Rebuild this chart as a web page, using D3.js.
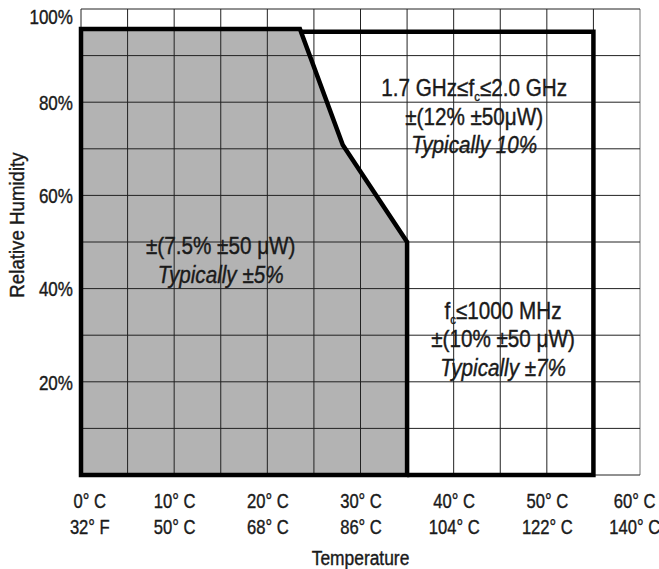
<!DOCTYPE html>
<html>
<head>
<meta charset="utf-8">
<script src="https://cdn.jsdelivr.net/npm/d3@7"></script>
<style>
  body { margin: 0; background: #fff; }
  text { font-family: "Liberation Sans", Arial, sans-serif; fill: #1a1a1a; stroke: #1a1a1a; stroke-width: 0.4px; }
</style>
</head>
<body>
<script>
// axis ticks
let tempTicks = [0, 10, 20, 30, 40, 50, 60]
let tempLabelsC = ["0° C", "10° C", "20° C", "30° C", "40° C", "50° C", "60° C"]
let tempLabelsF = ["32° F", "50° C", "68° C", "86° C", "104° C", "122° C", "140° C"]
let humTicks = [20, 40, 60, 80, 100]

// ±7.5% region (temperature °C, relative humidity %)
let innerTemp = [0, 0, 23.5, 28.1, 35, 35]
let innerHum = [0, 95.7, 95.7, 70.8, 50, 0]

// outer region boundary
let outerTemp = [23.5, 55, 55, 35]
let outerHum = [95.1, 95.1, 0, 0]

// region labels: centre temp, first baseline humidity, lines
let labelTemp = [15.0, 42.2, 45.3]
let labelHum = [47.4, 81.3, 33.5]
let labelLines = [
  [["±(7.5% ±50 μW)"], ["Typically ±5%", "i"]],
  [["1.7 GHz≤f", "c", "≤2.0 GHz"], ["±(12% ±50μW)"], ["Typically 10%", "i"]],
  [["f", "c", "≤1000 MHz"], ["±(10% ±50 μW)"], ["Typically ±7%", "i"]]
]

let W = 659, H = 569
// horizontal squeeze to fake a condensed face
let narrow = 0.83

let x = d3.scaleLinear().domain([0, 60]).range([81, 640])
let y = d3.scaleLinear().domain([0, 100]).range([475, 9])

let svg = d3.select("body").append("svg")
    .attr("width", W)
    .attr("height", H)

let line = d3.line()
    .x(d => x(d[0]))
    .y(d => y(d[1]))

let inner = innerTemp.map((t, i) => [t, innerHum[i]])
let outer = outerTemp.map((t, i) => [t, outerHum[i]])

// grey fill first, grid on top of it
svg.append("path")
    .attr("d", line(inner) + "Z")
    .attr("fill", "#b3b3b3")

let grid = svg.append("g")
grid.selectAll(".v")
    .data(d3.range(0, 61, 5))
    .enter().append("line")
    .attr("x1", d => x(d)).attr("x2", d => x(d))
    .attr("y1", y(0)).attr("y2", y(100))
    .attr("stroke", d => d == 60 ? "#777" : "#222").attr("stroke-width", 1)
grid.selectAll(".h")
    .data(d3.range(0, 101, 10))
    .enter().append("line")
    .attr("x1", x(0)).attr("x2", x(60))
    .attr("y1", d => y(d)).attr("y2", d => y(d))
    .attr("stroke", "#222").attr("stroke-width", 1)

// thick outlines
svg.append("path")
    .attr("d", line(outer))
    .attr("fill", "none")
    .attr("stroke", "#000")
    .attr("stroke-width", 4.5)
svg.append("path")
    .attr("d", line(inner) + "Z")
    .attr("fill", "none")
    .attr("stroke", "#000")
    .attr("stroke-width", 4.5)

// y axis
let yAxis = svg.append("g")
    .attr("transform", "translate(" + x(0) + ",0)")
    .call(d3.axisLeft(y).tickValues(humTicks).tickSize(0).tickPadding(9.5).tickFormat(d => d + "%"))
yAxis.select(".domain").remove()
yAxis.selectAll("text")
    .style("font-size", "20px")
    .attr("transform", "scale(0.85,1)")
    .attr("dy", d => d == 100 ? "0.72em" : "0.36em")

// x axis, two label rows
function xRow(labels, pad) {
  let g = svg.append("g")
      .attr("transform", "translate(0," + y(0) + ")")
      .call(d3.axisBottom(x).tickValues(tempTicks).tickSize(0).tickPadding(pad)
        .tickFormat((d, i) => labels[i]))
  g.select(".domain").remove()
  g.selectAll("text")
      .style("font-size", "20px")
      .attr("transform", "scale(" + narrow + ",1)")
      .attr("dx", (d, i) => i == 0 ? 10 : (i == tempTicks.length - 1 ? -7 : 0))
}
xRow(tempLabelsC, 18.5)
xRow(tempLabelsF, 44.5)

// axis titles
svg.append("text")
    .attr("transform", "translate(" + (x(0) + x(60)) / 2 + ",565) scale(0.87,1)")
    .attr("text-anchor", "middle")
    .style("font-size", "20px")
    .text("Temperature")

svg.append("text")
    .attr("transform", "translate(24,225) rotate(-90) scale(0.89,1)")
    .attr("text-anchor", "middle")
    .style("font-size", "21px")
    .text("Relative Humidity")

// region labels
labelLines.forEach((lines, k) => {
  let t = svg.append("text")
      .attr("transform", "translate(" + x(labelTemp[k]) + ",0) scale(0.88,1)")
      .attr("text-anchor", "middle")
      .style("font-size", "23.5px")
  lines.forEach((ln, j) => {
    let row = t.append("tspan")
        .attr("x", 0)
        .attr("y", y(labelHum[k]) + j * 28.5)
    if (ln[1] == "i") {
      row.style("font-style", "italic").text(ln[0])
    } else if (ln.length == 3) {
      row.append("tspan").text(ln[0])
      row.append("tspan").attr("dy", 5).style("font-size", "13px").text(ln[1])
      row.append("tspan").attr("dy", -5).text(ln[2])
    } else {
      row.text(ln[0])
    }
  })
})
</script>
</body>
</html>
